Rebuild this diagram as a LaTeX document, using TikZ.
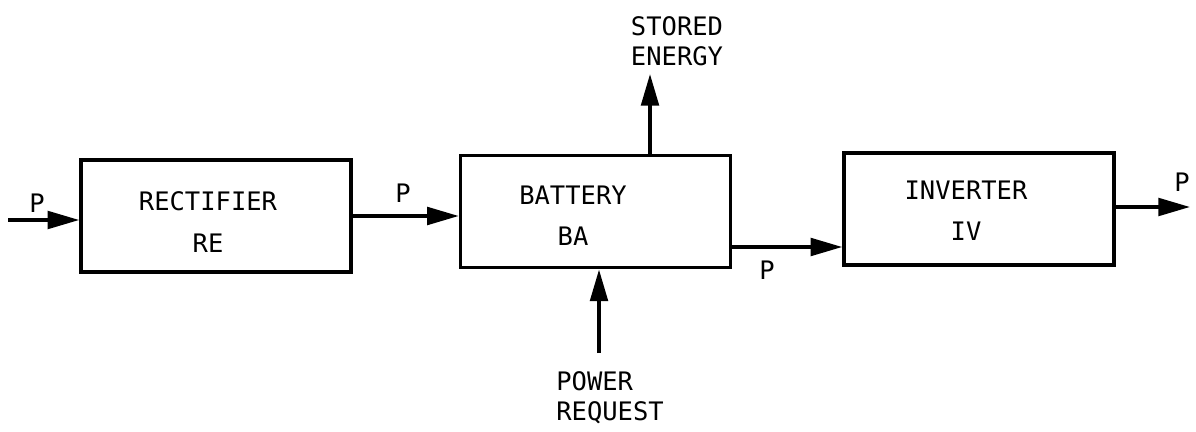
\documentclass[tikz,border=0pt]{standalone}
\usepackage{fontspec}
\setmainfont{DejaVu Sans Mono}
\usepackage{tikz}
\usetikzlibrary{arrows.meta,positioning}

\begin{document}
\begin{tikzpicture}[
  x=0.02cm, y=-0.02cm,
  blk/.style={draw, line width=2pt, minimum width=5.4cm, minimum height=2.25cm},
  txt/.style={font=\fontsize{14.5}{23.5}\selectfont, align=center, inner sep=0pt},
  lbl/.style={font=\fontsize{14.5}{17}\selectfont, align=left, inner sep=0pt},
  arr/.style={-{Triangle[length=18pt,width=10pt]}, line width=2pt}
]
\useasboundingbox (0,0) rectangle (1196,432);

%% Blocks left to right
\node[blk] (re) at (216,216)   {};
\node[blk] (ba) at (595.5,211.5) {};
\node[blk] (iv) at (979,209)   {};

\node[txt] (re-txt) at (208,222) {RECTIFIER\\RE};
\node[txt] (ba-txt) at (573,216) {BATTERY\\BA};
\node[txt] (iv-txt) at (966,211) {INVERTER\\IV};

%% Power flow
\coordinate (src)  at (8,220);
\coordinate (bout) at (ba.east |- 0,247);
\coordinate (sink) at (1190,207);
\draw[arr] (src) -- (src -| re.west);
\draw[arr] (re.east) -- (re.east -| ba.west);
\draw[arr] (bout) -- (bout -| iv.west);
\draw[arr] (iv.east |- sink) -- (sink);

\node[txt] (p1) at (37,203)   {P};
\node[txt] (p2) at (403,193)  {P};
\node[txt] (p3) at (767,270)  {P};
\node[txt] (p4) at (1182,182) {P};

%% Stored energy and power request
\coordinate (setip) at (650,74);
\coordinate (prq)   at (599,353);
\draw[arr] (ba.north -| setip) -- (setip);
\draw[arr] (prq) -- (prq |- ba.south);

\node[lbl] (se) at (677,41)  {STORED\\ENERGY};
\node[lbl] (pr) at (610,398) {POWER\\REQUEST};

\end{tikzpicture}
\end{document}
